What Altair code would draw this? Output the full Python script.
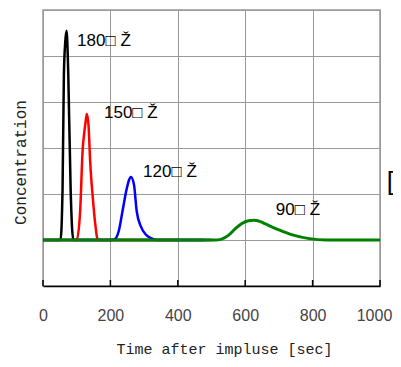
import altair as alt
import pandas as pd

# --- data ---
t_black = [0, 30, 52, 58, 62, 66, 70, 75, 82, 90, 120, 300, 500]
c_black = [0, 0, 0, 1.1, 3.6, 4.3, 4.55, 3.6, 1.1, 0, 0, 0, 0]

t_red = [0, 60, 100, 110, 118, 122, 127, 130, 135, 140, 148, 155, 163, 200, 400]
c_red = [0, 0, 0, 0.6, 2.0, 2.3, 2.6, 2.74, 2.5, 1.7, 0.9, 0.35, 0, 0, 0]

t_blue = [0, 150, 205, 215, 225, 236, 248, 255, 261, 270, 278, 290, 305, 320, 337, 400, 480]
c_blue = [0, 0, 0, 0.03, 0.2, 0.63, 1.1, 1.3, 1.37, 1.2, 0.63, 0.3, 0.12, 0.04, 0, 0, 0]

t_green = [0, 200, 400, 510, 530, 550, 570, 590, 610, 626, 645, 660, 700, 740, 790, 840, 900, 1000]
c_green = [0, 0, 0, 0, 0.02, 0.1, 0.24, 0.36, 0.42, 0.43, 0.4, 0.35, 0.22, 0.11, 0.03, 0, 0, 0]

series = [
    ("180", t_black, c_black, "black", 2.5),
    ("150", t_red, c_red, "red", 2.5),
    ("120", t_blue, c_blue, "blue", 2.5),
    ("90", t_green, c_green, "green", 3),
]

label_text = ["180□  Ž", "150□  Ž", "120□  Ž", "90□  Ž"]
label_x = [101, 181, 297, 691]
label_y = [4.33, 2.76, 1.48, 0.65]

x_ticks = [0, 200, 400, 600, 800, 1000]
y_ticks = [-1, 0, 1, 2, 3, 4, 5]

W, H = 337, 276

xscale = alt.Scale(domain=[0, 1000], nice=False, zero=False)
yscale = alt.Scale(domain=[-1, 5], nice=False, zero=False)

x_axis = alt.Axis(
    values=x_ticks, grid=True, gridColor="#999999", gridWidth=1,
    domain=True, domainColor="black", domainWidth=1.5,
    ticks=False, labelPadding=21, labelFont="Liberation Sans",
    labelFontSize=16, labelColor="#444444", format="d", labelFlush=False,
    labelOffset={"expr": "datum.value == 1000 ? -6 : 0"},
    title="Time after impluse [sec]", titleFont="Liberation Mono",
    titleFontSize=15, titleFontWeight="normal", titleColor="#222222",
    titleX=181, titleY=67, titleBaseline="alphabetic", titleAlign="center",
)
y_axis = alt.Axis(
    values=y_ticks, grid=True, gridColor="#999999", gridWidth=1,
    domain=False, ticks=False, labels=False,
    title="Concentration", titleFont="Liberation Mono",
    titleFontSize=16, titleFontWeight="normal", titleColor="#222222",
    titleX=-23, titleY=152, titleAngle=270, titleAlign="center",
    titleBaseline="middle",
)

layers = []
first = True
for name, ts, cs, color, sw in series:
    df = pd.DataFrame({"t": ts, "c": cs})
    if first:
        enc = dict(
            x=alt.X("t:Q", scale=xscale, axis=x_axis),
            y=alt.Y("c:Q", scale=yscale, axis=y_axis),
        )
        first = False
    else:
        enc = dict(
            x=alt.X("t:Q", scale=xscale),
            y=alt.Y("c:Q", scale=yscale),
        )
    layers.append(
        alt.Chart(df).mark_line(color=color, strokeWidth=sw, interpolate="monotone").encode(**enc)
    )

ticks_df = pd.DataFrame({"t": x_ticks})
tick_layer = alt.Chart(ticks_df).mark_rule(color="black", strokeWidth=1.5).encode(
    x=alt.X("t:Q", scale=xscale),
    y=alt.value(H - 6),
    y2=alt.value(H),
)

lab_df = pd.DataFrame({"txt": label_text, "t": label_x, "c": label_y})
lab_layer = alt.Chart(lab_df).mark_text(
    align="left", baseline="middle", font="Liberation Sans", fontSize=17, color="black"
).encode(x=alt.X("t:Q", scale=xscale), y=alt.Y("c:Q", scale=yscale), text="txt:N")

bracket_df = pd.DataFrame({"txt": ["["], "t": [1020], "c": [1.26]})
bracket_layer = alt.Chart(bracket_df).mark_text(
    align="left", baseline="middle", font="Liberation Sans", fontSize=26, color="black"
).encode(x=alt.X("t:Q", scale=xscale), y=alt.Y("c:Q", scale=yscale), text="txt:N")

chart = alt.layer(*layers, tick_layer, lab_layer, bracket_layer).properties(
    width=W, height=H,
    autosize=alt.AutoSizeParams(type="none"),
    padding={"left": 35, "top": 2, "right": 13, "bottom": 72},
    background="white",
).configure_view(stroke="#999999", strokeWidth=1.5)

chart.save("out.html", embed_options={"renderer": "svg", "actions": False})
